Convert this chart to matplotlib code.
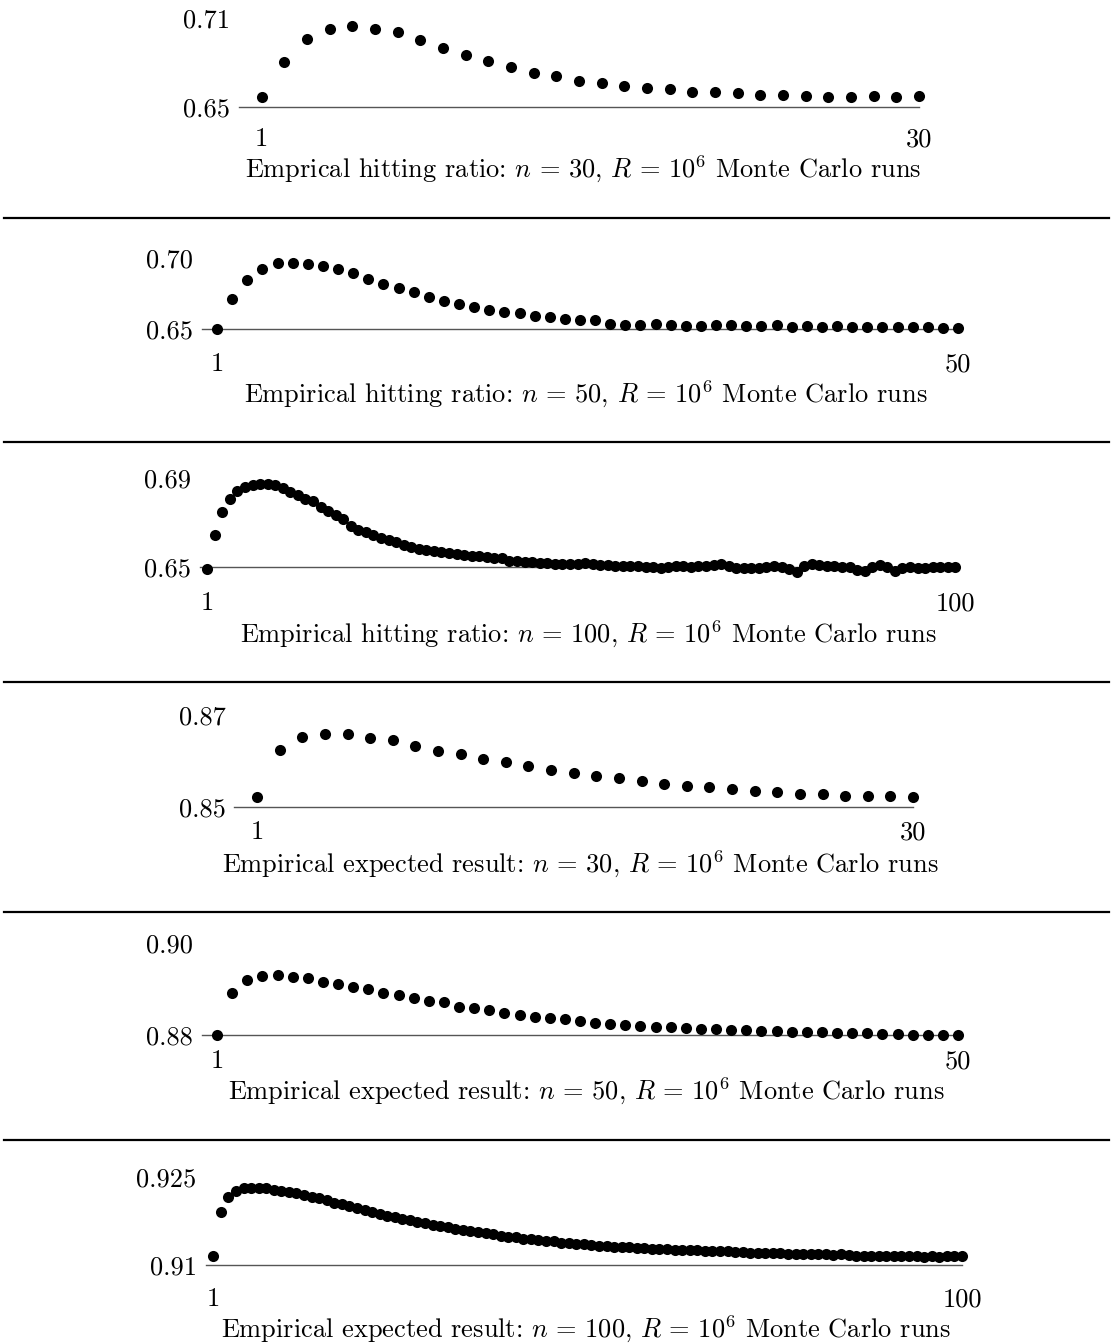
import matplotlib
matplotlib.use("Agg")
import matplotlib.pyplot as plt

plt.rcParams["font.family"] = ["cmr10", "DejaVu Serif"]
plt.rcParams["mathtext.fontset"] = "cm"
plt.rcParams["axes.unicode_minus"] = False

# ---------------- data ----------------
hit_30 = [0.6563, 0.6801, 0.6957, 0.7025, 0.7050, 0.7025, 0.7009, 0.6953, 0.6901, 0.6851,
          0.6810, 0.6767, 0.6726, 0.6708, 0.6677, 0.6663, 0.6640, 0.6629, 0.6618, 0.6597,
          0.6602, 0.6591, 0.6582, 0.6582, 0.6575, 0.6568, 0.6568, 0.6572, 0.6568, 0.6572]

hit_50 = [0.6502, 0.6711, 0.6847, 0.6923, 0.6965, 0.6965, 0.6960, 0.6946, 0.6923, 0.6894,
          0.6854, 0.6819, 0.6793, 0.6761, 0.6730, 0.6700, 0.6678, 0.6660, 0.6636, 0.6624,
          0.6617, 0.6594, 0.6585, 0.6570, 0.6566, 0.6566, 0.6535, 0.6531, 0.6531, 0.6535,
          0.6531, 0.6526, 0.6523, 0.6531, 0.6528, 0.6523, 0.6523, 0.6528, 0.6519, 0.6523,
          0.6516, 0.6523, 0.6519, 0.6519, 0.6514, 0.6519, 0.6519, 0.6514, 0.6509, 0.6507]

hit_100 = [0.6490, 0.6642, 0.6746, 0.6805, 0.6843, 0.6862, 0.6871, 0.6874, 0.6874, 0.6868,
           0.6856, 0.6839, 0.6824, 0.6808, 0.6799, 0.6772, 0.6752, 0.6734, 0.6714, 0.6683,
           0.6668, 0.6659, 0.6645, 0.6630, 0.6622, 0.6610, 0.6600, 0.6590, 0.6581, 0.6575,
           0.6569, 0.6565, 0.6561, 0.6557, 0.6553, 0.6550, 0.6547, 0.6544, 0.6540, 0.6539,
           0.6528, 0.6525, 0.6521, 0.6520, 0.6517, 0.6518, 0.6514, 0.6512, 0.6513, 0.6511,
           0.6515, 0.6513, 0.6508, 0.6506, 0.6504, 0.6503, 0.6505, 0.6502, 0.6500, 0.6499,
           0.6493, 0.6498, 0.6501, 0.6502, 0.6500, 0.6503, 0.6501, 0.6509, 0.6514, 0.6505,
           0.6495, 0.6492, 0.6496, 0.6493, 0.6499, 0.6504, 0.6500, 0.6490, 0.6478, 0.6502,
           0.6511, 0.6506, 0.6503, 0.6504, 0.6500, 0.6497, 0.6486, 0.6480, 0.6497, 0.6507,
           0.6500, 0.6479, 0.6494, 0.6497, 0.6493, 0.6495, 0.6497, 0.6500, 0.6498, 0.6500]

exp_30 = [0.8522, 0.8624, 0.8651, 0.8659, 0.8659, 0.8649, 0.8645, 0.8632, 0.8622, 0.8615,
          0.8605, 0.8597, 0.8589, 0.8580, 0.8573, 0.8568, 0.8562, 0.8557, 0.8550, 0.8545,
          0.8542, 0.8538, 0.8535, 0.8533, 0.8528, 0.8527, 0.8523, 0.8524, 0.8523, 0.8522]

exp_50 = [0.8800, 0.8891, 0.8920, 0.8929, 0.8931, 0.8927, 0.8924, 0.8916, 0.8911, 0.8905,
          0.8900, 0.8892, 0.8887, 0.8880, 0.8875, 0.8871, 0.8862, 0.8858, 0.8855, 0.8849,
          0.8844, 0.8840, 0.8836, 0.8834, 0.8831, 0.8827, 0.8824, 0.8822, 0.8820, 0.8818,
          0.8817, 0.8815, 0.8814, 0.8812, 0.8811, 0.8811, 0.8809, 0.8808, 0.8807, 0.8807,
          0.8806, 0.8805, 0.8805, 0.8804, 0.8803, 0.8803, 0.8801, 0.8801, 0.8801, 0.8799]

exp_100 = [0.9115, 0.9190, 0.9215, 0.9226, 0.9230, 0.9231, 0.9231, 0.9230, 0.9228, 0.9226,
           0.9224, 0.9222, 0.9219, 0.9216, 0.9213, 0.9210, 0.9206, 0.9203, 0.9200, 0.9196,
           0.9193, 0.9190, 0.9187, 0.9184, 0.9181, 0.9178, 0.9176, 0.9173, 0.9171, 0.9168,
           0.9166, 0.9164, 0.9162, 0.9160, 0.9158, 0.9156, 0.9154, 0.9152, 0.9150, 0.9148,
           0.9147, 0.9145, 0.9144, 0.9142, 0.9141, 0.9140, 0.9138, 0.9137, 0.9136, 0.9135,
           0.9134, 0.9133, 0.9132, 0.9131, 0.9131, 0.9130, 0.9129, 0.9129, 0.9128, 0.9127,
           0.9127, 0.9126, 0.9126, 0.9125, 0.9125, 0.9124, 0.9124, 0.9123, 0.9123, 0.9122,
           0.9122, 0.9121, 0.9121, 0.9121, 0.9120, 0.9120, 0.9119, 0.9119, 0.9119, 0.9118,
           0.9118, 0.9118, 0.9117, 0.9118, 0.9117, 0.9116, 0.9116, 0.9116, 0.9116, 0.9115,
           0.9116, 0.9115, 0.9115, 0.9115, 0.9114, 0.9115, 0.9114, 0.9115, 0.9115, 0.9115]

series = [hit_30, hit_50, hit_100, exp_30, exp_50, exp_100]
y_bounds = [(0.65, 0.71), (0.65, 0.70), (0.65, 0.69), (0.85, 0.87), (0.88, 0.90), (0.91, 0.925)]
y_labels = [("0.65", "0.71"), ("0.65", "0.70"), ("0.65", "0.69"),
            ("0.85", "0.87"), ("0.88", "0.90"), ("0.91", "0.925")]
captions = [
    r"Emprical hitting ratio: $n \,=\, 30$, $R \,=\, 10^6$ Monte Carlo runs",
    r"Empirical hitting ratio: $n \,=\, 50$, $R \,=\, 10^6$ Monte Carlo runs",
    r"Empirical hitting ratio: $n \,=\, 100$, $R \,=\, 10^6$ Monte Carlo runs",
    r"Empirical expected result: $n \,=\, 30$, $R \,=\, 10^6$ Monte Carlo runs",
    r"Empirical expected result: $n \,=\, 50$, $R \,=\, 10^6$ Monte Carlo runs",
    r"Empirical expected result: $n \,=\, 100$, $R \,=\, 10^6$ Monte Carlo runs",
]

# ---------------- layout (pixels, origin top-left) ----------------
W, H = 1113, 1344
# left x (value 0), right x (value n), bottom y (ymin), top y (ymax)
boxes = [(239.0, 919.0, 106.7, 18.3),
         (202.0, 958.0, 329.3, 258.3),
         (199.7, 955.3, 566.7, 478.3),
         (234.4, 913.0, 806.7, 715.0),
         (202.0, 958.0, 1035.0, 943.3),
         (205.7, 962.0, 1265.0, 1176.7)]
xlabel_y = [137, 362, 601, 830, 1059, 1297]
caption_xy = [(583, 166), (586, 391), (588, 631), (580, 861), (586, 1088), (586, 1326)]
separators_y = [217.7, 442, 682, 912, 1140]

FS = 19
PX2PT = 72.0 / 100.0

fig = plt.figure(figsize=(W / 100, H / 100), dpi=100)

for vals, (ymin, ymax), (lo_lab, hi_lab), cap, (xl, xr, yb, yt), ly, (cx, cy) in zip(
        series, y_bounds, y_labels, captions, boxes, xlabel_y, caption_xy):
    n = len(vals)
    ax = fig.add_axes([xl / W, 1 - yb / H, (xr - xl) / W, (yb - yt) / H])
    ax.set_xlim(0, n)
    ax.set_ylim(ymin, ymax)
    for side in ("top", "left", "right"):
        ax.spines[side].set_visible(False)
    ax.spines["bottom"].set_color("#555555")
    ax.spines["bottom"].set_linewidth(1.0)
    ax.set_xticks([])
    ax.set_yticks([])
    ax.patch.set_alpha(0)

    xs = list(range(1, n + 1))
    ax.plot(xs, vals, "o", color="black", markersize=8, markeredgewidth=0,
            clip_on=False, zorder=3)

    # value labels at the bottom and top of the y range
    for val, txt in ((ymin, lo_lab), (ymax, hi_lab)):
        ax.annotate(txt, xy=(0, val), xycoords="data",
                    xytext=(-9 * PX2PT, 0), textcoords="offset points",
                    ha="right", va="center_baseline", fontsize=FS)
    # first / last index labels
    for xv in (1, n):
        ax.annotate(str(xv), xy=(xv, ymin), xycoords="data",
                    xytext=(0, -(ly - yb) * PX2PT), textcoords="offset points",
                    ha="center", va="center_baseline", fontsize=FS)

    fig.text(cx / W, 1 - cy / H, cap, ha="center", va="center_baseline", fontsize=FS)

for sy in separators_y:
    fig.add_artist(plt.Line2D([4 / W, 1109 / W], [1 - sy / H, 1 - sy / H],
                              color="black", linewidth=1.6))

fig.savefig("out.png", dpi=100)
